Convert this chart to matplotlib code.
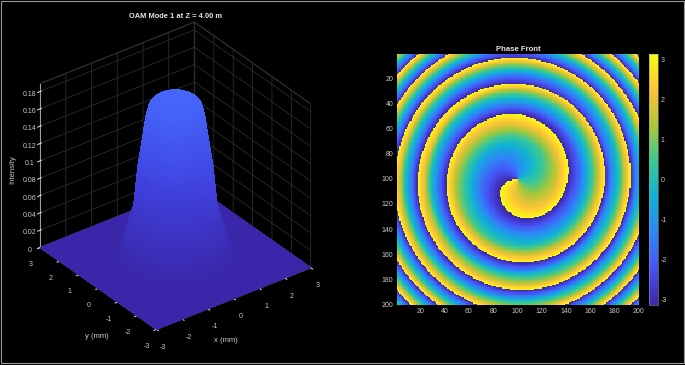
import numpy as np
import matplotlib
matplotlib.use('Agg')
import matplotlib.pyplot as plt
from matplotlib.colors import LinearSegmentedColormap
from matplotlib.patches import Rectangle

plt.rcParams['font.family'] = ['Liberation Sans', 'DejaVu Sans']
plt.rcParams['axes.unicode_minus'] = False

profile_r = [0, 0.5, 0.7, 0.82, 0.92, 1.0, 1.17, 1.3, 1.57, 1.76, 2.0, 4.5]
profile_i = [0.182, 0.182, 0.180, 0.175, 0.162, 0.143, 0.105, 0.059, 0.028, 0.006, 0.0, 0.0]

# where the phase jumps from +pi to -pi: radius (cells) against angle round the
# centre, degrees from straight down, going through right, up and left
arm_angle = [-90, -80, -60, -30, 0, 45, 90, 180, 270, 360, 450, 540, 630, 720, 810, 900, 990,
             1080, 1170, 1260, 1350, 1440, 1620, 1800, 1980]
arm_radius = [0, 9, 17, 24, 30, 36, 41, 52, 59, 66, 72, 76, 83, 88, 93, 97, 102,
              106, 110, 114, 117.5, 121, 128, 135, 141]

z_ticks = [0, 0.02, 0.04, 0.06, 0.08, 0.1, 0.12, 0.14, 0.16, 0.18]
z_labels = ['0', '0.02', '0.04', '0.06', '0.08', '0.1', '0.12', '0.14', '0.16', '0.18']
xy_ticks = [-3, -2, -1, 0, 1, 2, 3]
img_ticks = [20, 40, 60, 80, 100, 120, 140, 160, 180, 200]
cbar_ticks = [-3, -2, -1, 0, 1, 2, 3]

parula = LinearSegmentedColormap.from_list('parula', [
    (0.2422, 0.1504, 0.6603), (0.2810, 0.3228, 0.9579), (0.1786, 0.5289, 0.9682),
    (0.0689, 0.6948, 0.8394), (0.2161, 0.7843, 0.5923), (0.6720, 0.7793, 0.2227),
    (0.9970, 0.7659, 0.2199), (0.9769, 0.9839, 0.0805)])
surf_cmap = LinearSegmentedColormap.from_list('surf', ['#3a26a8', '#4040dc', '#4464fa'])

TXT = '#c8c8c8'
W, H = 685, 365

fig = plt.figure(figsize=(W / 100, H / 100), dpi=100, facecolor='black')
fig.add_artist(Rectangle((0.001, 0.006), 0.998, 0.992, fill=False, ec='#999999', lw=0.8,
                         transform=fig.transFigure))

# left: intensity surface
ax3 = fig.add_axes([-7.5 / W, 2 / H, 0.52, 1], projection='3d', proj_type='ortho', facecolor='black')
ax3.view_init(elev=32, azim=-127)
ax3.set_box_aspect((1, 1, 1), zoom=0.912)

grid = np.linspace(-3, 3, 161)
X, Y = np.meshgrid(grid, grid)
Z = np.interp(np.hypot(X, Y), profile_r, profile_i)
ax3.plot_surface(X, Y, Z, facecolors=surf_cmap(Z / 0.182), rstride=1, cstride=1,
                 shade=False, linewidth=0, antialiased=False)

ax3.set_xlim(-3, 3)
ax3.set_ylim(-3, 3)
ax3.set_zlim(0, 0.189)
ax3.set_xticks(xy_ticks)
ax3.set_yticks(xy_ticks)
ax3.set_zticks(z_ticks)
ax3.set_zticklabels(z_labels)
for axis in (ax3.xaxis, ax3.yaxis, ax3.zaxis):
    axis.set_pane_color((0, 0, 0, 1))
    axis.pane.set_edgecolor('#2c2c2c')
    axis.line.set_color('#a8a890')
    axis.line.set_linewidth(0.7)
    axis._axinfo['grid'].update(color='#2c2c2c', linewidth=0.6)
    axis._axinfo['tick']['color'] = '#a8a890'
ax3.tick_params(colors=TXT, labelsize=5, pad=0)
ax3.zaxis.set_tick_params(pad=-3)
fig.text(226 / W, 1 - 341 / H, 'x (mm)', color=TXT, fontsize=5.5, ha='center', va='center')
fig.text(97 / W, 1 - 337 / H, 'y (mm)', color=TXT, fontsize=5.5, ha='center', va='center')
fig.text(13 / W, 1 - 170 / H, 'Intensity', color=TXT, fontsize=5.5, rotation=90,
         ha='center', va='center')
fig.text(175 / W, 1 - 16.5 / H, 'OAM Mode 1 at Z = 4.00 m', color='#e4e4e4', fontsize=5.4,
         fontweight='bold', ha='center', va='center')

# right: phase front
cells = np.arange(1, 201)
col, row = np.meshgrid(cells, cells)
dx, dy = col - 100.5, row - 100.5
arm = np.radians(np.interp(np.hypot(dx, dy), arm_radius, arm_angle))
phase = np.mod(arm - np.arctan2(dx, dy), 2 * np.pi) - np.pi

ax2 = fig.add_axes([397 / W, 1 - 305 / H, 242 / W, 251 / H])
im = ax2.imshow(phase, cmap=parula, vmin=-np.pi, vmax=np.pi, aspect='auto',
                interpolation='nearest', extent=(0.5, 200.5, 200.5, 0.5))
ax2.set_xticks(img_ticks)
ax2.set_yticks(img_ticks)
ax2.tick_params(colors=TXT, labelsize=5, length=0, pad=2.5)
ax2.set_title('Phase Front', color='#e4e4e4', fontsize=5.6, fontweight='bold', pad=2.5)
for s in ax2.spines.values():
    s.set_visible(False)

cax = fig.add_axes([649 / W, 1 - 305 / H, 9 / W, 251 / H])
cb = fig.colorbar(im, cax=cax, ticks=cbar_ticks)
cb.ax.tick_params(colors=TXT, labelsize=5, length=0, pad=2)
cb.outline.set_edgecolor('#999999')
cb.outline.set_linewidth(0.4)

fig.savefig('out.png', dpi=100, facecolor='black')
